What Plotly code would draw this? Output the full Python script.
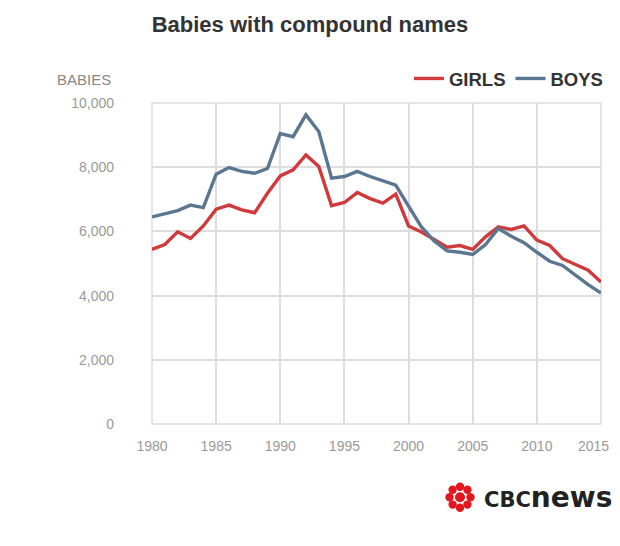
import plotly.graph_objects as go

years = list(range(1980, 2016))

girls = [5440, 5590, 5990, 5780, 6170, 6690, 6820, 6670, 6580, 7190,
         7730, 7920, 8380, 8020, 6800, 6900, 7210, 7020, 6880, 7160,
         6170, 5980, 5750, 5510, 5560, 5440, 5830, 6140, 6060, 6170,
         5730, 5560, 5150, 4970, 4790, 4420]

boys = [6450, 6560, 6650, 6820, 6740, 7780, 7990, 7870, 7810, 7960,
        9050, 8950, 9630, 9110, 7660, 7710, 7870, 7710, 7570, 7440,
        6790, 6140, 5700, 5390, 5350, 5280, 5590, 6090, 5850, 5650,
        5350, 5070, 4940, 4630, 4340, 4080]

x_ticks = [1980, 1985, 1990, 1995, 2000, 2005, 2010, 2015]
y_ticks = [0, 2000, 4000, 6000, 8000, 10000]

# the last year label is drawn separately, right-aligned, so it fits the page
x_labels = [str(t) for t in x_ticks[:-1]] + [""]

RED = "#d03a3d"
BLUE = "#5b7690"
FONT = "Liberation Sans, Arial, sans-serif"

fig = go.Figure()
fig.add_trace(go.Scatter(x=years, y=girls, mode="lines", name="<b>GIRLS</b>",
                         line=dict(color=RED, width=3.4)))
fig.add_trace(go.Scatter(x=years, y=boys, mode="lines", name="<b>BOYS</b>",
                         line=dict(color=BLUE, width=3.4)))

# page body has an 8px margin, so the figure starts at (8, 8)
fig.update_layout(
    width=604, height=530,
    margin=dict(l=144, r=11, t=95, b=114, autoexpand=False),
    paper_bgcolor="white", plot_bgcolor="white",
    font=dict(family=FONT, color="#999999", size=14),
    title=dict(text="<b>Babies with compound names</b>", x=0.5, xref="container",
               xanchor="center", y=0.970, yanchor="middle",
               font=dict(family=FONT, size=22, color="#333333")),
    legend=dict(orientation="h", x=1.0155, xanchor="right", y=1.075, yanchor="middle",
                font=dict(family=FONT, size=18.5, color="#333333"),
                bgcolor="rgba(0,0,0,0)"),
    showlegend=True,
)

fig.update_xaxes(range=[1980, 2015], tickvals=x_ticks, ticktext=x_labels,
                 showgrid=True, gridcolor="#dddddd", gridwidth=1.5, zeroline=False,
                 showline=False, ticks="", ticklabelstandoff=12,
                 tickfont=dict(size=14, color="#999999"))
fig.update_yaxes(range=[0, 10000], tickvals=y_ticks, tickformat=",",
                 showgrid=True, gridcolor="#dddddd", gridwidth=1.5,
                 zeroline=False, showline=False, ticks="", ticklabelstandoff=37,
                 tickfont=dict(size=14, color="#999999"))

fig.add_annotation(text=str(x_ticks[-1]), xref="x", yref="paper", x=x_ticks[-1], y=0,
                   xanchor="right", yanchor="middle", xshift=10, yshift=-22,
                   showarrow=False, font=dict(family=FONT, size=14, color="#999999"))

# frame round the plot area
fig.add_shape(type="rect", xref="paper", yref="paper", x0=0, x1=1, y0=0, y1=1,
              line=dict(color="#dddddd", width=1.5), layer="below")

fig.add_annotation(text="BABIES", xref="paper", yref="paper", x=0, y=1,
                   xanchor="right", yanchor="middle", xshift=-39, yshift=24,
                   showarrow=False, font=dict(family=FONT, size=15, color="#888888"))

# CBC news logo
gx, gy = 0.686, -0.228
fig.add_shape(type="circle", xref="paper", yref="paper", xsizemode="pixel",
              ysizemode="pixel", xanchor=gx, yanchor=gy, x0=-5, x1=5, y0=-5, y1=5,
              fillcolor="#e1161e", line_width=0)
for dx, dy in [(10.5, 0), (7.4, 7.4), (0, 10.5), (-7.4, 7.4), (-10.5, 0),
               (-7.4, -7.4), (0, -10.5), (7.4, -7.4)]:
    fig.add_shape(type="circle", xref="paper", yref="paper", xsizemode="pixel",
                  ysizemode="pixel", xanchor=gx, yanchor=gy,
                  x0=dx - 4.2, x1=dx + 4.2, y0=dy - 4.2, y1=dy + 4.2,
                  fillcolor="#e1161e", line_width=0)
fig.add_annotation(text="<b><span style='font-size:21px'>CBC</span>news</b>",
                   xref="paper", yref="paper", x=gx, y=gy, xanchor="left",
                   yanchor="middle", xshift=22, showarrow=False,
                   font=dict(family="DejaVu Sans", size=28, color="#222222"))

fig.write_html("out.html")
